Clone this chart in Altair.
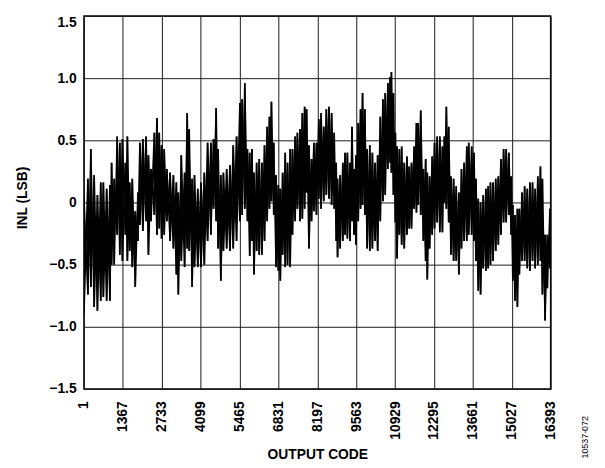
import altair as alt
import pandas as pd

# Output codes at which the INL envelope was read
codes = [1, 139, 243, 359, 474, 590, 682, 798, 913, 971, 1064, 1168, 1260, 1352, 1456, 1526,
         1607, 1699, 1803, 1895, 1965, 2069, 2184, 2265, 2357, 2473, 2565, 2646, 2727, 2820,
         2912, 3027, 3143, 3247, 3316, 3420, 3536, 3628, 3698, 3801, 3882, 3998, 4113, 4229,
         4344, 4460, 4552, 4645, 4714, 4807, 4899, 5014, 5130, 5245, 5361,
         5477, 5558, 5650, 5743, 5823, 5904, 5974, 6066, 6158, 6251, 6343, 6436, 6516, 6586,
         6667, 6748, 6828, 6898, 6979, 7071, 7152, 7244, 7325, 7418, 7498, 7591, 7672, 7752,
         7822, 7903, 7995, 8076, 8168, 8249, 8330, 8423, 8515, 8607, 8700, 8792, 8862, 8908,
         9000, 9093, 9173, 9254, 9347, 9416, 9485, 9555, 9636, 9716, 9786, 9867, 9947, 10040,
         10132, 10225, 10317, 10410, 10502, 10583, 10675, 10756, 10800,
         10871, 10940, 10998, 11079, 11160, 11252, 11345, 11425, 11506, 11599, 11680, 11737,
         11830, 11922, 12003, 12061, 12142, 12234, 12315, 12407, 12500, 12592, 12661, 12731,
         12812, 12892, 12985, 13077, 13170, 13262, 13355, 13447, 13516, 13620, 13701, 13771,
         13851, 13932, 14025, 14117, 14198, 14279, 14371, 14464, 14556, 14648, 14741, 14833,
         14926, 15007, 15064, 15145, 15226, 15295, 15388, 15480, 15573, 15665, 15757, 15850,
         15942, 16035, 16104, 16197, 16277, 16370]

# Upper excursions of INL (LSB)
inl_hi = [0.03, 0.19, 0.43, 0.22, 0.06, 0.16, 0.16, 0.11, 0.14, 0.32, 0.19, 0.53, 0.48, 0.51, 0.32, 0.53,
          0.16, 0.19, -0.07, 0.08, 0.48, 0.51, 0.53, 0.38, 0.27, 0.56, 0.68, 0.56, 0.46, 0.43,
          0.27, 0.24, 0.22, 0.16, 0.08, 0.38, 0.24, 0.72, 0.59, 0.19, 0.22, 0.11, 0.16, 0.24,
          0.48, 0.48, 0.51, 0.76, 0.43, 0.22, 0.24, 0.27, 0.30, 0.46, 0.53,
          0.80, 0.83, 0.96, 0.43, 0.40, 0.43, 0.24, 0.32, 0.35, 0.32, 0.46, 0.61, 0.69, 0.81,
          0.48, 0.22, 0.14, 0.11, 0.24, 0.40, 0.32, 0.43, 0.43, 0.53, 0.56, 0.59, 0.72, 0.77,
          0.75, 0.46, 0.35, 0.48, 0.48, 0.67, 0.72, 0.61, 0.75, 0.77, 0.72, 0.56, 0.32, 0.19,
          0.22, 0.32, 0.40, 0.40, 0.32, 0.61, 0.27, 0.38, 0.64, 0.75, 0.88, 0.75, 0.43, 0.46,
          0.40, 0.32, 0.38, 0.69, 0.83, 0.88, 0.96, 1.01, 1.05,
          0.88, 0.56, 0.45, 0.43, 0.45, 0.32, 0.37, 0.29, 0.32, 0.45, 0.64, 0.64,
          0.74, 0.27, 0.35, 0.24, 0.21, 0.37, 0.48, 0.53, 0.53, 0.45, 0.53, 0.77,
          0.61, 0.21, 0.19, 0.13, 0.08, 0.27, 0.32, 0.45, 0.48, 0.45, 0.40, 0.19,
          0.03, 0.00, 0.06, 0.11, 0.13, 0.16, 0.16, 0.19, 0.21, 0.35, 0.43, 0.43,
          0.40, 0.21, -0.02, -0.10, -0.05, -0.05, 0.08, 0.13, 0.11, 0.16, 0.16, 0.11,
          0.21, 0.29, 0.19, -0.26, -0.26, -0.05]

# Lower excursions of INL (LSB)
inl_lo = [-0.89, -0.74, -0.68, -0.84, -0.87, -0.79, -0.76, -0.79, -0.79, -0.50, -0.50, -0.26, -0.42, -0.47, -0.26, -0.47,
          -0.39, -0.52, -0.68, -0.31, -0.18, -0.23, -0.15, -0.42, -0.15, -0.10, -0.26, -0.21, -0.29, -0.26,
          -0.15, -0.31, -0.37, -0.58, -0.74, -0.47, -0.52, -0.37, -0.39, -0.68, -0.52, -0.52, -0.52, -0.50,
          -0.31, -0.26, -0.05, -0.15, -0.37, -0.63, -0.39, -0.37, -0.39, -0.37, -0.31,
          -0.15, -0.10, -0.05, -0.15, -0.43, -0.31, -0.58, -0.39, -0.42, -0.42, -0.31, -0.15, -0.05, 0.01,
          -0.10, -0.52, -0.55, -0.63, -0.42, -0.52, -0.50, -0.52, -0.26, -0.15, -0.05, -0.15, -0.13, -0.05,
          0.08, -0.37, -0.15, -0.07, -0.10, 0.03, -0.05, 0.01, 0.06, 0.03, -0.02, -0.05, -0.31, -0.44,
          -0.37, -0.31, -0.26, -0.29, -0.31, -0.15, -0.26, -0.34, -0.15, -0.05, -0.02, -0.10, -0.37, -0.39,
          -0.37, -0.31, -0.39, -0.15, 0.01, 0.06, 0.27, 0.32, 0.24,
          0.06, -0.16, -0.45, -0.26, -0.34, -0.37, -0.26, -0.21, -0.21, -0.05, -0.08, -0.02,
          -0.10, -0.31, -0.47, -0.62, -0.37, -0.26, -0.21, -0.16, -0.24, -0.24, 0.00, -0.05,
          -0.16, -0.42, -0.47, -0.47, -0.58, -0.37, -0.31, -0.31, -0.26, -0.26, -0.31, -0.47,
          -0.71, -0.74, -0.53, -0.55, -0.53, -0.50, -0.47, -0.39, -0.34, -0.26, -0.16, -0.16,
          -0.10, -0.26, -0.63, -0.79, -0.84, -0.58, -0.47, -0.47, -0.53, -0.55, -0.47, -0.53,
          -0.50, -0.47, -0.74, -0.95, -0.69, -0.53]

x_ticks = [1, 1367, 2733, 4099, 5465, 6831, 8197, 9563, 10929, 12295, 13661, 15027, 16393]
y_ticks = [-1.5, -1.0, -0.5, 0, 0.5, 1.0, 1.5]

rows = []
for i, c in enumerate(codes):
    # trace A visits high then low, trace B low then high: together they form the dense band
    rows.append({"code": c, "inl": inl_hi[i], "seq": 2 * i, "trace": "A"})
    rows.append({"code": c, "inl": inl_lo[i], "seq": 2 * i + 1, "trace": "A"})
    rows.append({"code": c, "inl": inl_lo[i], "seq": 2 * i, "trace": "B"})
    rows.append({"code": c, "inl": inl_hi[i], "seq": 2 * i + 1, "trace": "B"})
dz = pd.DataFrame(rows)

FONT = "Liberation Sans"

x_scale = alt.Scale(domain=[1, 16393], nice=False, zero=False)
y_scale = alt.Scale(domain=[-1.5, 1.5], nice=False, zero=False)

x_axis = alt.Axis(
    values=x_ticks, title="OUTPUT CODE", labelAngle=270, labelPadding=12,
    labelExpr="format(datum.value, 'd')",
    tickSize=0, domain=False, grid=True, gridColor="#1a1a1a", gridWidth=1,
    labelFont=FONT, labelFontSize=14, labelFontWeight="bold", labelColor="black",
    labelFlush=False, labelOverlap=False,
    titleFont=FONT, titleFontSize=14, titleFontWeight="bold", titleColor="black",
    titleY=67, titleBaseline="middle",
)
y_axis = alt.Axis(
    values=y_ticks, title="INL (LSB)",
    labelExpr="datum.value == 0 ? '0' : replace(format(datum.value, '.1f'), '-', '\u2013')",
    labelBaseline={"condition": {"test": "datum.value >= 1.5", "value": "top"}, "value": "middle"},
    labelPadding=8, tickSize=0, domain=False, grid=True, gridColor="#1a1a1a", gridWidth=1,
    labelFont=FONT, labelFontSize=14, labelFontWeight="bold", labelColor="black",
    labelFlush=False, labelOverlap=False,
    titleFont=FONT, titleFontSize=14, titleFontWeight="bold", titleColor="black",
    titleX=-62, titleY=184, titleAngle=270, titleAlign="center", titleBaseline="middle",
)

trace = alt.Chart(dz).mark_line(color="black", strokeWidth=1.6, clip=True).encode(
    x=alt.X("code:Q", scale=x_scale, axis=x_axis),
    y=alt.Y("inl:Q", scale=y_scale, axis=y_axis),
    detail="trace:N",
    order=alt.Order("seq:Q"),
)

note = alt.Chart(pd.DataFrame({"t": ["10537-072"]})).mark_text(
    angle=270, font=FONT, fontSize=9, color="black", align="center", baseline="middle"
).encode(x=alt.value(508), y=alt.value(427), text="t:N")

chart = alt.layer(trace, note).properties(
    width=473, height=378,
    autosize=alt.AutoSizeParams(type="none"),
    padding={"left": 77, "top": 5, "right": 47, "bottom": 77},
).configure_view(stroke="black", strokeWidth=1.5)

chart.save("out.html", embed_options={"renderer": "svg", "actions": False})
